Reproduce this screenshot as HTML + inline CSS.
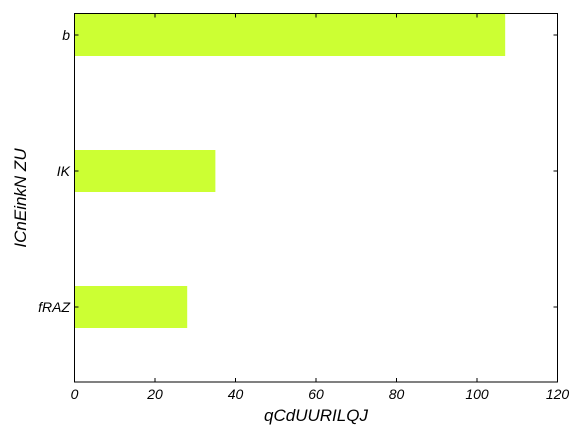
<!DOCTYPE html>
<html><head><meta charset="utf-8"><style>
body{margin:0;background:#fff;}
text{font-family:"Liberation Sans",Arial,sans-serif;font-style:italic;fill:#000;}
</style></head><body>
<svg id="chart" width="584" height="438" xmlns="http://www.w3.org/2000/svg">
<g id="bars"></g><g id="ticks"></g>
<rect x="74.5" y="13.5" width="483" height="368.5" fill="none" stroke="#000" stroke-width="1"/>
<text x="316" y="421" font-size="17" text-anchor="middle">qCdUURILQJ</text>
<text transform="translate(26,198) rotate(-90)" font-size="17" text-anchor="middle">ICnEinkN ZU</text>
</svg>
<script>
const categories = ["b", "IK", "fRAZ"];
const values = [107, 35, 28];
const xTicks = [0, 20, 40, 60, 80, 100, 120];
const L = 74.5, R = 557.5, T = 13.5, B = 382;
const xMax = 120;
function xs(v){ return L + v / xMax * (R - L); }
function ys(i){ return 35 + i * 136; }
const barH = 42;
const NS = "http://www.w3.org/2000/svg";
const bars = document.getElementById('bars');
const ticks = document.getElementById('ticks');
categories.forEach((c, i) => {
  const r = document.createElementNS(NS, 'rect');
  
  
  r.setAttribute('x', xs(0)); r.setAttribute('y', ys(i) - barH / 2);
  r.setAttribute('width', xs(values[i]) - xs(0)); r.setAttribute('height', barH);
  r.setAttribute('fill', '#ccff33');
  bars.appendChild(r);
  const t = document.createElementNS(NS, 'text');
  
  
  t.setAttribute('x', 70); t.setAttribute('y', ys(i) + 5);
  t.setAttribute('font-size', '14'); t.setAttribute('text-anchor', 'end');
  t.textContent = c;
  ticks.appendChild(t);
  const l1 = document.createElementNS(NS, 'path');
  
  
  l1.setAttribute('d', `M${L},${ys(i)}h4M${R},${ys(i)}h-4`);
  l1.setAttribute('stroke', '#000');
  ticks.appendChild(l1);
});
xTicks.forEach(v => {
  const t = document.createElementNS(NS, 'text');
  
  
  t.setAttribute('x', xs(v)); t.setAttribute('y', 399);
  t.setAttribute('font-size', '14'); t.setAttribute('text-anchor', 'middle');
  t.textContent = v;
  ticks.appendChild(t);
  const l = document.createElementNS(NS, 'path');
  
  
  l.setAttribute('d', `M${xs(v)},${B}v-4M${xs(v)},${T}v4`);
  l.setAttribute('stroke', '#000');
  ticks.appendChild(l);
});
</script>
</body></html>
